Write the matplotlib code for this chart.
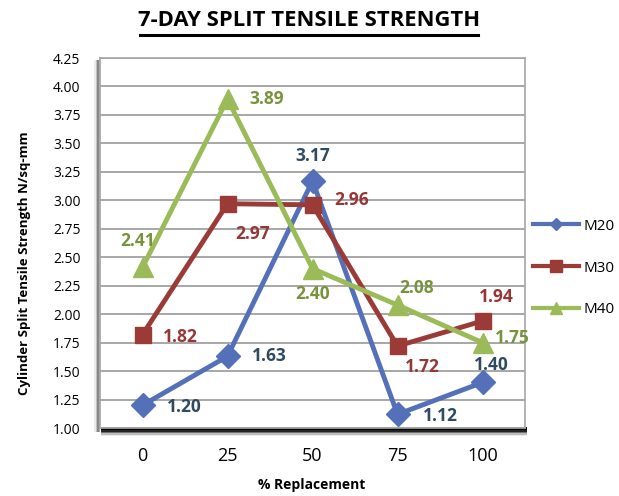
import matplotlib
matplotlib.use("Agg")
import matplotlib.pyplot as plt
from matplotlib.lines import Line2D
from matplotlib.patches import Rectangle

categories = ["0", "25", "50", "75", "100"]
m20 = [1.20, 1.63, 3.17, 1.12, 1.40]
m30 = [1.82, 2.97, 2.96, 1.72, 1.94]
m40 = [2.41, 3.89, 2.40, 2.08, 1.75]
yticks = [1.00, 1.25, 1.50, 1.75, 2.00, 2.25, 2.50, 2.75, 3.00, 3.25, 3.50, 3.75, 4.00, 4.25]

plt.rcParams['font.family'] = ['Open Sans', 'DejaVu Sans']

fig = plt.figure(figsize=(6.19, 4.96), dpi=100)
W, H = 619, 496
ax = fig.add_axes([100 / W, 1 - 428 / H, 425 / W, 370 / H])

x = list(range(len(categories)))
c20, c30, c40 = "#5470b8", "#9b3b38", "#9bbb59"
l20, l30, l40 = "#2f4b62", "#953735", "#77933c"

ax.plot(x, m20, color=c20, lw=3.5, marker="D", ms=12, zorder=4)
ax.plot(x, m30, color=c30, lw=3.5, marker="s", ms=12, zorder=4)
ax.plot(x, m40, color=c40, lw=3.5, marker="^", ms=15, zorder=4)

ax.set_xlim(-0.5, 4.5)
ax.set_ylim(1.0, 4.25)
ax.set_yticks(yticks)
ax.set_yticklabels([f"{v:.2f}" for v in yticks], fontsize=10)
ax.set_xticks(x)
ax.set_xticklabels(categories, fontsize=13)
ax.tick_params(axis="both", length=0)
ax.tick_params(axis="x", pad=14)
ax.tick_params(axis="y", pad=14)
ax.grid(axis="y", color="#a0a0a0", lw=1.3)
ax.set_axisbelow(True)
for s in ax.spines.values():
    s.set_color("#a6a6a6")
    s.set_linewidth(1.2)

# shadow under the plot area
for i, a in enumerate([0.95, 0.75, 0.45, 0.2, 0.08]):
    fig.add_artist(Rectangle((101 / W, 1 - (430 + i * 1.5) / H), 426 / W, 3 / H,
                             transform=fig.transFigure, color="black", alpha=a, lw=0, zorder=0))
for i, a in enumerate([0.35, 0.18, 0.08]):
    fig.add_artist(Rectangle((97 / W - i * 1.5 / W, 1 - 432 / H), 3 / W, 372 / H,
                             transform=fig.transFigure, color="black", alpha=a, lw=0, zorder=0))

fig.text(312 / W, 1 - 485 / H, "% Replacement", ha="center", va="center",
         fontsize=10, fontweight="bold")
fig.text(25 / W, 1 - 263 / H, "Cylinder Split Tensile Strength N/sq-mm", ha="center", va="center",
         rotation=90, fontsize=9.5, fontweight="bold")

title = fig.text(309 / W, 1 - 20 / H, "7-DAY SPLIT TENSILE STRENGTH", ha="center", va="center",
                 fontsize=15.8, fontweight="bold")
fig.add_artist(Line2D([140 / W, 478 / W], [1 - 35 / H, 1 - 35 / H], color="black", lw=2.2,
                      transform=fig.transFigure))

# data labels: (dx, dy) in pixels, ha
offs20 = [(24, -2, "left"), (24, 0, "left"), (0, 25, "center"), (25, -2, "left"), (9, 17, "center")]
offs30 = [(20, -2, "left"), (8, -30, "left"), (22, 5, "left"), (7, -21, "left"), (14, 24, "center")]
offs40 = [(-5, 26, "center"), (22, 0, "left"), (0, -25, "center"), (2, 17, "left"), (12, 5, "left")]
for vals, offs, col in [(m20, offs20, l20), (m30, offs30, l30), (m40, offs40, l40)]:
    for xi, v, (dx, dy, ha) in zip(x, vals, offs):
        ax.annotate(f"{v:.2f}", (xi, v), xytext=(dx, dy), textcoords="offset pixels",
                    ha=ha, va="center", fontsize=12.5, fontweight="bold", color=col, zorder=6)

handles = [
    Line2D([], [], color=c20, lw=3, marker="D", ms=6),
    Line2D([], [], color=c30, lw=3, marker="s", ms=8),
    Line2D([], [], color=c40, lw=3, marker="^", ms=8),
]
fig.legend(handles, ["M20", "M30", "M40"], loc="center left", bbox_to_anchor=(527 / W, 1 - 268 / H),
           frameon=False, fontsize=11, handlelength=3.0, labelspacing=1.75, handletextpad=0.3,
           borderaxespad=0)

fig.savefig("out.png", dpi=100)
